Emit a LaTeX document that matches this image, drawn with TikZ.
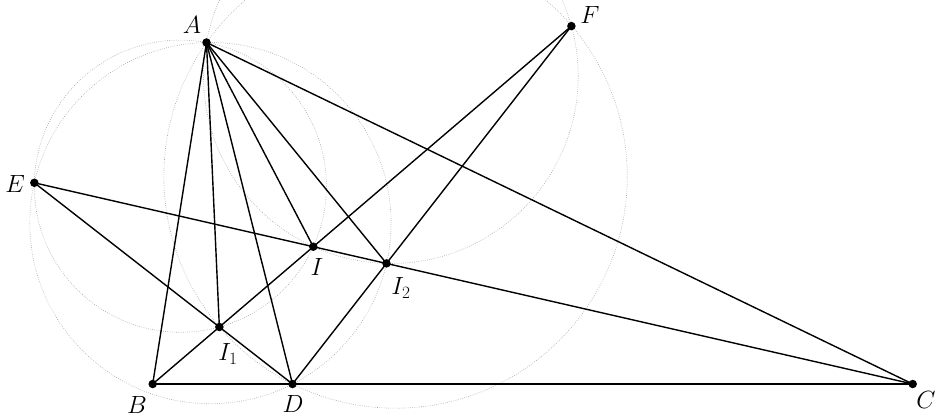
\documentclass[tikz,border=0pt]{standalone}
\begin{document}
\begin{tikzpicture}[x=1pt,y=-1pt,
  dotpt/.style={circle, fill=black, inner sep=0pt, minimum size=8.5pt},
  seg/.style={line width=1.4pt, black},
  aux/.style={draw=gray!70, line width=0.6pt, dash pattern=on 0.7pt off 1.5pt},
  lab/.style={font=\fontsize{25}{30}\selectfont, inner sep=0pt}]
\useasboundingbox (0,0) rectangle (940,417);
\clip (0,0) rectangle (940,417);
% points
\coordinate (pA) at (206.5,42.5);
\coordinate (pB) at (152.7,384);
\coordinate (pC) at (912.7,384);
\coordinate (pD) at (292.5,384);
\coordinate (pE) at (34.35,182.8);
\coordinate (pF) at (571.4,26.1);
\coordinate (pI) at (313.3,246.7);
\coordinate (pI1) at (219.37,327.0);
\coordinate (pI2) at (386.47,263.4);
% auxiliary circles
\coordinate (O1) at (180.37,186.2);
\coordinate (O2) at (390.83,76.12);
\coordinate (O3) at (395.56,176.49);
\coordinate (O4) at (210.43,223.09);
\draw[aux] (O1) circle[radius=146.06pt];
\draw[aux] (O2) circle[radius=187.37pt];
\draw[aux] (O3) circle[radius=231.7pt];
\draw[aux] (O4) circle[radius=180.63pt];
% segments
\draw[seg] (pB) -- (pC);
\draw[seg] (pA) -- (pB);
\draw[seg] (pA) -- (pI1);
\draw[seg] (pA) -- (pD);
\draw[seg] (pA) -- (pI);
\draw[seg] (pA) -- (pI2);
\draw[seg] (pA) -- (pC);
\draw[seg] (pE) -- (pC);
\draw[seg] (pE) -- (pD);
\draw[seg] (pB) -- (pF);
\draw[seg] (pD) -- (pF);
% dots
\node[dotpt] (A) at (pA) {};
\node[dotpt] (B) at (pB) {};
\node[dotpt] (C) at (pC) {};
\node[dotpt] (D) at (pD) {};
\node[dotpt] (E) at (pE) {};
\node[dotpt] (F) at (pF) {};
\node[dotpt] (I) at (pI) {};
\node[dotpt] (I1) at (pI1) {};
\node[dotpt] (I2) at (pI2) {};
% labels
\node[lab] (lA) at (192,25) {$A$};
\node[lab] (lB) at (137,405) {$B$};
\node[lab] (lC) at (926,400) {$C$};
\node[lab] (lD) at (293,404) {$D$};
\node[lab] (lE) at (15,184) {$E$};
\node[lab] (lF) at (590,15) {$F$};
\node[lab] (lI) at (317,267) {$I$};
\node[lab] (lI1) at (228,354) {$I_1$};
\node[lab] (lI2) at (401,288) {$I_2$};
\end{tikzpicture}
\end{document}
